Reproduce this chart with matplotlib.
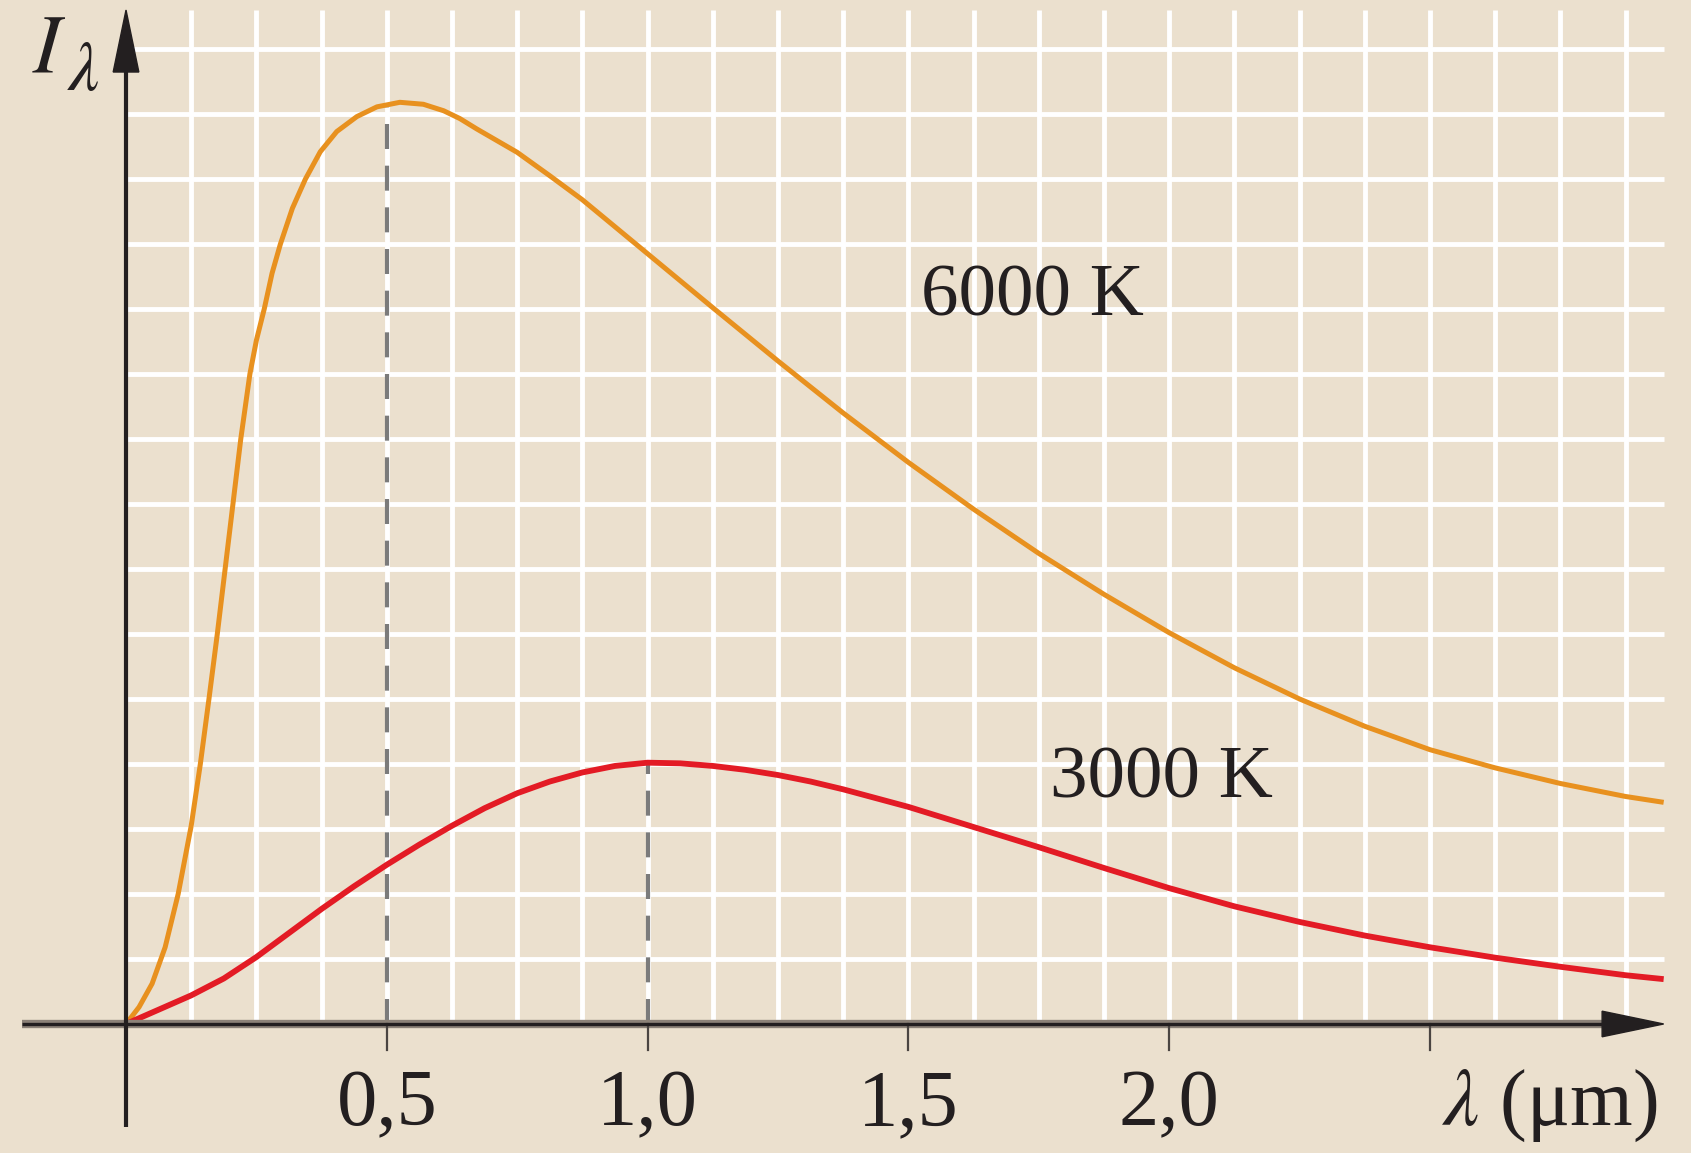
import numpy as np
import matplotlib.pyplot as plt
from matplotlib.patches import Polygon

plt.rcParams['mathtext.fontset'] = 'stix'
plt.rcParams['font.family'] = ['Liberation Serif', 'DejaVu Serif']

## Dados (lambda em um, intensidade em unidades da grade)
lam_6000 = [0.0, 0.025, 0.05, 0.075, 0.1, 0.125, 0.1425, 0.159, 0.175, 0.190,
            0.205, 0.220, 0.2375, 0.250, 0.265, 0.280, 0.296, 0.319, 0.344, 0.3725,
            0.404, 0.4425, 0.481, 0.525, 0.570, 0.609, 0.640, 0.6725, 0.75, 0.8125,
            0.875, 1.0, 1.125, 1.25, 1.375, 1.5, 1.625, 1.75, 1.875, 2.0,
            2.125, 2.25, 2.375, 2.5, 2.625, 2.75, 2.875, 2.948]
I_6000 = [0.0, 0.26, 0.62, 1.18, 2.0, 3.05, 4.0, 5.0, 6.0, 7.0,
          8.0, 9.0, 10.0, 10.52, 11.0, 11.55, 12.0, 12.55, 13.0, 13.42,
          13.73, 13.96, 14.11, 14.18, 14.15, 14.05, 13.93, 13.77, 13.41, 13.05,
          12.68, 11.85, 11.02, 10.20, 9.40, 8.64, 7.92, 7.24, 6.61, 6.02,
          5.48, 5.00, 4.58, 4.22, 3.94, 3.70, 3.50, 3.41]

lam_3000 = [0.0, 0.0625, 0.125, 0.1875, 0.25, 0.3125, 0.375, 0.4375, 0.5, 0.5625,
            0.625, 0.6875, 0.75, 0.8125, 0.875, 0.9375, 1.0, 1.0625, 1.125, 1.1875,
            1.25, 1.3125, 1.375, 1.5, 1.625, 1.75, 1.875, 2.0, 2.125, 2.25,
            2.375, 2.5, 2.625, 2.75, 2.875, 2.948]
I_3000 = [0.0, 0.22, 0.44, 0.70, 1.03, 1.40, 1.77, 2.12, 2.45, 2.76,
          3.05, 3.32, 3.55, 3.73, 3.87, 3.97, 4.02, 4.01, 3.97, 3.91,
          3.83, 3.73, 3.61, 3.34, 3.03, 2.72, 2.40, 2.09, 1.81, 1.57,
          1.36, 1.18, 1.02, 0.88, 0.75, 0.69]

peak_lams = [0.5, 1.0]
tick_vals = [0.5, 1.0, 1.5, 2.0, 2.5]
tick_labels = ["0,5", "1,0", "1,5", "2,0", ""]

bg = '#ebe0ce'
orange = '#e8911f'
red = '#e31b25'
ink = '#231f20'

fig = plt.figure(figsize=(16.91, 11.53), dpi=100)
fig.patch.set_facecolor(bg)
ax = fig.add_axes([0, 0, 1, 1])
ax.set_facecolor(bg)
ax.set_xlim(-0.2416, 3.0004)
ax.set_ylim(-1.985, 15.754)
ax.axis('off')

x_end = 2.948
y_top = 15.6

# grade branca
for gx in np.arange(0.125, x_end, 0.125):
    ax.plot([gx, gx], [0, y_top], color='white', lw=3.5, zorder=1,
            solid_capstyle='butt')
for gy in range(1, 16):
    ax.plot([0, x_end], [gy, gy], color='white', lw=3.5, zorder=1,
            solid_capstyle='butt')

# linhas tracejadas nos picos
for lam, xs, ys in [(peak_lams[0], lam_6000, I_6000), (peak_lams[1], lam_3000, I_3000)]:
    top = np.interp(lam, xs, ys)
    ax.plot([lam, lam], [0, top], color='#7b7b7b', lw=3.0, zorder=2,
            dashes=(6, 4), solid_capstyle='butt')

# curvas
ax.plot(lam_6000, I_6000, color=orange, lw=3.6, zorder=4,
        solid_capstyle='butt', solid_joinstyle='round')
ax.plot(lam_3000, I_3000, color=red, lw=4.2, zorder=4,
        solid_capstyle='butt', solid_joinstyle='round')

# eixos
ax.plot([-0.2, 2.84], [0, 0], color='#8c8278', lw=6, zorder=5, solid_capstyle='butt')
ax.plot([-0.2, 2.84], [0, 0], color=ink, lw=2.4, zorder=6, solid_capstyle='butt')
ax.plot([0, 0], [-1.585, 14.7], color=ink, lw=3.0, zorder=6, solid_capstyle='butt')
ax.add_patch(Polygon([(2.830, 0.197), (2.830, -0.197), (x_end, 0)],
                     closed=True, color=ink, zorder=7))
ax.add_patch(Polygon([(-0.0246, 14.646), (0.0246, 14.646), (0, y_top)],
                     closed=True, color=ink, zorder=7))

# marcas e rotulos do eixo x
for t, lab in zip(tick_vals, tick_labels):
    ax.plot([t, t], [0, -0.4], color='#4a4542', lw=1.6, zorder=5)
    ax.text(t, -1.554, lab, fontsize=58, ha='center', va='baseline', color=ink)

ax.text(2.730, -1.554, r'$\lambda$ (μm)', fontsize=58, ha='center',
        va='baseline', color=ink)
ax.text(-0.180, 14.65, r'$I$', fontsize=60, ha='left', va='baseline', color=ink)
ax.text(-0.114, 14.37, r'$\lambda$', fontsize=50, ha='left', va='baseline', color=ink)

ax.text(1.737, 11.17, '6000 K', fontsize=54, ha='center', va='center',
        color=ink, zorder=8)
ax.text(1.985, 3.76, '3000 K', fontsize=54, ha='center', va='center',
        color=ink, zorder=8)

plt.savefig('out.png', dpi=100, facecolor=bg)
